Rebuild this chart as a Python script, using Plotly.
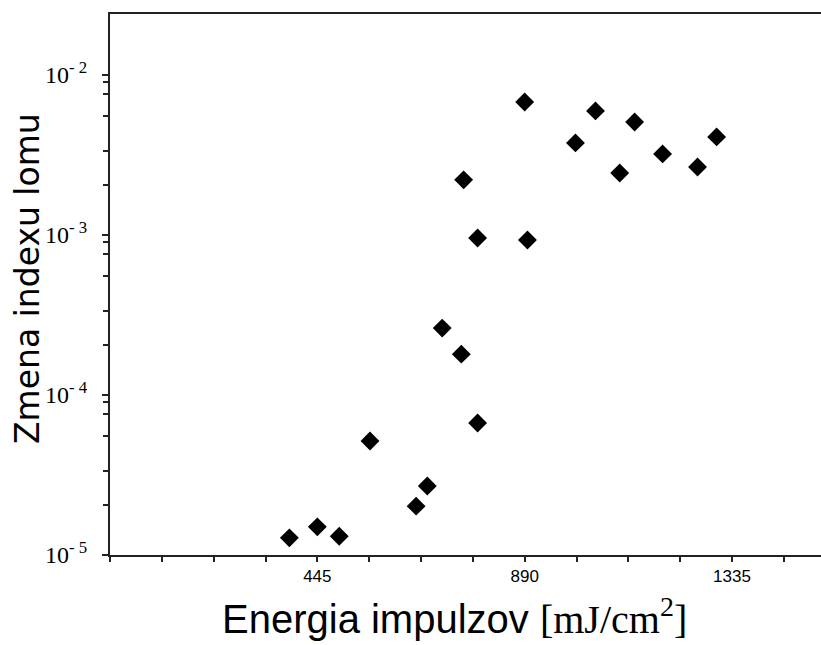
import plotly.graph_objects as go

energy = [385, 445, 492, 558, 657, 681, 713, 754, 789, 759, 789, 890, 896, 999, 1042, 1094, 1126, 1186, 1261, 1302]
delta_n = [1.28e-5, 1.50e-5, 1.31e-5, 5.16e-5, 2.02e-5, 2.70e-5, 2.62e-4, 1.80e-4, 6.68e-5,
           2.21e-3, 9.57e-4, 6.78e-3, 9.30e-4, 3.76e-3, 5.96e-3, 2.44e-3, 5.08e-3, 3.21e-3, 2.66e-3, 4.10e-3]

x_ticks = [445, 890, 1335]
y_ticks = [1e-5, 1e-4, 1e-3, 1e-2]
y_ticktext = ["10<sup>- 5</sup>", "10<sup>- 4</sup>", "10<sup>- 3</sup>", "10<sup>- 2</sup>"]
minor_mult = [2.05, 3.37, 5.54, 7.57, 9.08]
y_minor = [m * d for d in [1e-5, 1e-4, 1e-3] for m in minor_mult]

x_title = "Energia impulzov <span style='font-family:Liberation Serif'>[mJ/cm<sup>2</sup>]</span>"
y_title = "Zmena indexu lomu"

fig = go.Figure()
fig.add_trace(go.Scatter(
    x=energy, y=delta_n, mode="markers",
    marker=dict(symbol="diamond", size=14.5, color="black", line=dict(width=0)),
    showlegend=False,
))

axis_col = "#222222"
fig.update_layout(
    width=821, height=645,
    margin=dict(l=110, r=0, t=14, b=90),
    paper_bgcolor="white", plot_bgcolor="white",
    xaxis=dict(
        range=[0, 1526], showgrid=False, zeroline=False,
        showline=True, linecolor=axis_col, linewidth=2, mirror=True,
        tickmode="array", tickvals=x_ticks, ticktext=[str(v) for v in x_ticks],
        ticks="outside", ticklen=5, tickwidth=1.5, tickcolor=axis_col,
        minor=dict(tickmode="linear", tick0=0, dtick=111.25, ticks="outside",
                   ticklen=5, tickwidth=1.5, tickcolor=axis_col, showgrid=False),
        tickfont=dict(family="Liberation Sans", size=17, color="black"),
    ),
    yaxis=dict(
        type="log", range=[-5, -1.619], showgrid=False, zeroline=False,
        showline=True, linecolor=axis_col, linewidth=2, mirror=False,
        tickmode="array", tickvals=y_ticks, ticktext=y_ticktext,
        ticks="outside", ticklen=6, tickwidth=1.5, tickcolor=axis_col,
        ticklabelstandoff=10,
        minor=dict(tickmode="array", tickvals=y_minor, ticks="outside",
                   ticklen=5, tickwidth=1.5, tickcolor=axis_col, showgrid=False),
        tickfont=dict(family="Liberation Serif", size=24, color="black"),
    ),
    annotations=[
        dict(text=x_title, xref="paper", yref="paper", x=(454 - 110) / 711, y=(555 - 616) / 541,
             xanchor="center", yanchor="middle", showarrow=False,
             font=dict(family="Liberation Sans", size=40, color="black")),
        dict(text=y_title, xref="paper", yref="paper", x=(27 - 110) / 711, y=(555 - 279) / 541,
             xanchor="center", yanchor="middle", showarrow=False, textangle=-90,
             font=dict(family="DejaVu Sans", size=33, color="black")),
    ],
)

fig.write_html("out.html")
